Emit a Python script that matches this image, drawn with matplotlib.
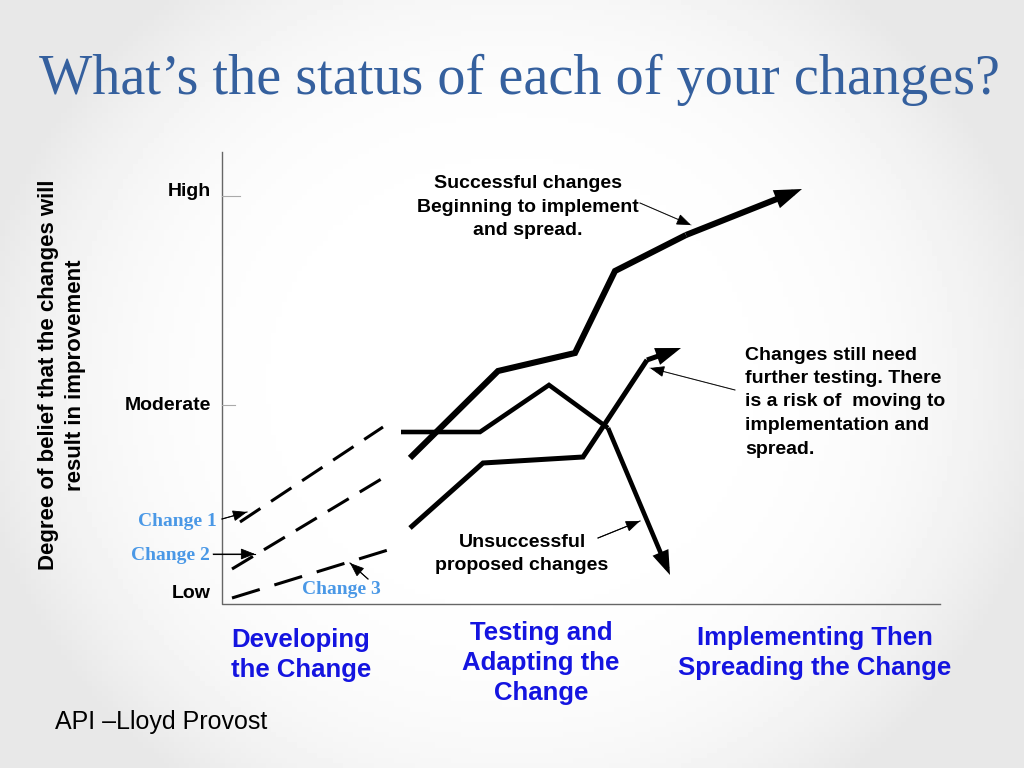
import numpy as np
import matplotlib.pyplot as plt

# --- data (slide pixel space: x right, y down) ---
title = "What\u2019s the status of each of your changes?"
y_label = "Degree of belief that the changes will\nresult in improvement"
level_names = ["High", "Moderate", "Low"]
level_y = [192, 405, 593]
stage_names = ["Developing\nthe Change", "Testing and\nAdapting the\nChange",
               "Implementing Then\nSpreading the Change"]
stage_x = [301, 541, 815]
stage_y = [655, 663, 653]

# dashed "developing" lines
change1_x = [240, 383]
change1_y = [522, 427]
change2_x = [232, 388]
change2_y = [569, 475]
change3_x = [232, 388]
change3_y = [598, 550]

# solid lines (last point = arrow tip)
success_x = [410, 498, 575, 615, 686, 802]
success_y = [458, 371, 353, 271, 235, 189]
fail_x = [401, 480, 549, 608, 670]
fail_y = [432, 432, 385, 428, 575]
testing_x = [410, 483, 583, 647, 681]
testing_y = [528, 463, 457, 360, 348]

note_success = "Successful changes\nBeginning to implement\nand spread."
note_testing = "Changes still need\nfurther testing. There\nis a risk of  moving to\nimplementation and\nspread."
note_fail = "Unsuccessful\nproposed changes"

fig = plt.figure(figsize=(10.24, 7.68), dpi=100)

# background: soft gray edges, white middle
bg = fig.add_axes([0, 0, 1, 1])
gx, gy = np.meshgrid(np.linspace(-1, 1, 200), np.linspace(-1, 1, 150))
r = np.clip(np.sqrt((gx / 1.05) ** 2 + (gy / 1.3) ** 2), 0, 1)
shade = 1 - 0.09 * r ** 4
bg.imshow(shade, cmap="gray", vmin=0, vmax=1, aspect="auto", extent=[0, 1, 0, 1])
bg.axis("off")

ax = fig.add_axes([0, 0, 1, 1])
ax.set_xlim(0, 1024)
ax.set_ylim(768, 0)
ax.axis("off")
ax.patch.set_alpha(0)

sans = "Liberation Sans"
serif = "Liberation Serif"

ax.text(519, 80, title, ha="center", va="center", fontsize=40.5,
        family=serif, color="#35609e")

# axes frame
ax.plot([222, 222, 940], [152, 604, 604], color="#666666", lw=1.0)
ax.plot([222, 240], [196, 196], color="#aaaaaa", lw=0.8)
ax.plot([222, 235], [405, 405], color="#aaaaaa", lw=0.8)

for name, yy in zip(level_names, level_y):
    ax.text(211, yy, name, ha="right", va="center", fontsize=14,
            family=sans, weight="bold")

ax.text(62, 375, y_label, ha="center", va="center", rotation=90,
        fontsize=16, family=sans, weight="bold", linespacing=1.4,
        multialignment="center")

for name, xx, yy in zip(stage_names, stage_x, stage_y):
    ax.text(xx, yy, name, ha="center", va="center", fontsize=18.5,
            family=sans, weight="bold", color="#1414e0", linespacing=1.33)

# dashed lines
ax.plot(change1_x, change1_y, color="black", lw=2.2, dashes=(8, 4.2),
        dash_capstyle="butt")
ax.plot(change2_x, change2_y, color="black", lw=2.2, dashes=(8, 4.2),
        dash_capstyle="butt")
ax.plot(change3_x, change3_y, color="black", lw=2.2, dashes=(9.5, 5),
        dash_capstyle="butt")


def arrow_line(xs, ys, lw, head):
    ax.plot(xs[:-1], ys[:-1], color="black", lw=lw, solid_joinstyle="miter",
            solid_capstyle="butt")
    ax.annotate("", xy=(xs[-1], ys[-1]), xytext=(xs[-2], ys[-2]),
                arrowprops=dict(arrowstyle=f"-|>,head_length={head},head_width={head * 0.35}",
                                color="black", lw=lw, shrinkA=0, shrinkB=0,
                                mutation_scale=10, joinstyle="miter",
                                capstyle="butt"))


arrow_line(success_x, success_y, 4.4, 1.1)
arrow_line(fail_x, fail_y, 3.3, 1.1)
arrow_line(testing_x, testing_y, 3.6, 1.1)

# notes
ax.text(528, 207, note_success, ha="center", va="center", fontsize=14,
        family=sans, weight="bold", linespacing=1.5)
ax.text(745, 402, note_testing, ha="left", va="center", fontsize=14,
        family=sans, weight="bold", linespacing=1.5)
ax.text(522, 554, note_fail, ha="center", va="center", fontsize=14,
        family=sans, weight="bold", linespacing=1.5)


def pointer(start, tip, line_color):
    ax.plot([start[0], tip[0]], [start[1], tip[1]], color=line_color, lw=0.8)
    ax.annotate("", xy=tip, xytext=start,
                arrowprops=dict(arrowstyle="-|>,head_length=0.9,head_width=0.35",
                                color="black", lw=0.6, shrinkA=0, shrinkB=0,
                                mutation_scale=10, joinstyle="miter"))


pointer((640, 203), (691, 225), "#9a9a9a")
pointer((735, 390), (650, 368), "#9a9a9a")
pointer((598, 538), (640, 521), "black")
pointer((222, 519), (247, 512), "black")
pointer((213, 554), (255, 554), "black")
pointer((368, 579), (350, 563), "black")

blue = "#4a98e6"
ax.text(217, 521, "Change 1", ha="right", va="center", fontsize=14,
        family=serif, weight="bold", color=blue)
ax.text(210, 555, "Change 2", ha="right", va="center", fontsize=14,
        family=serif, weight="bold", color=blue)
ax.text(341, 589, "Change 3", ha="center", va="center", fontsize=14,
        family=serif, weight="bold", color=blue)

ax.text(55, 722, "API \u2013Lloyd Provost", ha="left", va="center",
        fontsize=18, family=sans)

plt.savefig("out.png", dpi=100)
plt.close()
